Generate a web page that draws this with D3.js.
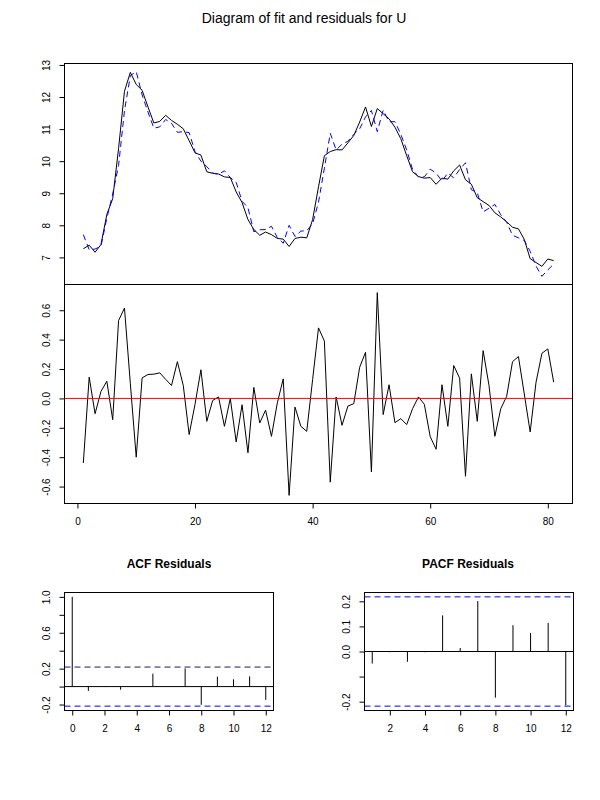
<!DOCTYPE html>
<html>
<head>
<meta charset="utf-8">
<script src="https://cdn.jsdelivr.net/npm/d3@7"></script>
<style>
  body { margin: 0; background: #fff; }
  svg { font-family: "Liberation Sans", Arial, Helvetica, sans-serif; }
</style>
</head>
<body>
<script>
// observed series U (black) and fitted values (blue, dashed)
const actualU = [
  7.27, 7.38, 7.16, 7.40, 8.34, 8.83, 10.40, 12.18, 12.77, 12.39,
  12.21, 11.69, 11.19, 11.24, 11.43, 11.27, 11.15, 11.01, 10.64, 10.26,
  10.19, 9.67, 9.62, 9.60, 9.51, 9.49, 9.04, 8.71, 8.18, 7.87,
  7.69, 7.79, 7.71, 7.59, 7.57, 7.34, 7.59, 7.63, 7.61, 8.18,
  9.20, 10.17, 10.30, 10.36, 10.35, 10.57, 10.80, 11.22, 11.69, 11.08,
  11.64, 11.48, 11.32, 11.06, 10.70, 10.17, 9.67, 9.52, 9.47, 9.49,
  9.28, 9.47, 9.44, 9.70, 9.88, 9.42, 9.28, 8.86, 8.74, 8.62,
  8.39, 8.26, 8.11, 7.94, 7.89, 7.56, 6.96, 6.84, 6.72, 6.95,
  6.90
];
const fittedU = [
  7.71, 7.24, 7.26, 7.35, 8.22, 8.98, 9.87, 11.57, 12.67, 12.79,
  12.07, 11.53, 11.03, 11.07, 11.30, 11.18, 10.90, 10.92, 10.89, 10.30,
  10.00, 9.83, 9.63, 9.59, 9.70, 9.49, 9.34, 8.75, 8.55, 7.80,
  7.86, 7.87, 7.97, 7.62, 7.44, 8.00, 7.65, 7.82, 7.83, 8.05,
  8.72, 9.78, 10.87, 10.35, 10.53, 10.62, 10.84, 11.01, 11.38, 11.58,
  10.92, 11.59, 11.23, 11.23, 10.84, 10.35, 9.74, 9.51, 9.51, 9.75,
  9.63, 9.38, 9.63, 9.48, 9.74, 9.95, 9.11, 9.02, 8.42, 8.53,
  8.65, 8.33, 8.10, 7.69, 7.61, 7.53, 7.19, 6.73, 6.41, 6.61,
  6.79
];
const residualsU = [
  -0.44, 0.145, -0.104, 0.047, 0.117, -0.145, 0.53, 0.615, 0.10, -0.40,
  0.14, 0.163, 0.165, 0.174, 0.13, 0.088, 0.25, 0.088, -0.246, -0.04,
  0.195, -0.156, -0.014, 0.01, -0.19, 0.0, -0.296, -0.043, -0.37, 0.075,
  -0.167, -0.08, -0.258, -0.03, 0.133, -0.66, -0.059, -0.19, -0.224, 0.128,
  0.48, 0.39, -0.57, 0.01, -0.183, -0.052, -0.036, 0.212, 0.314, -0.50,
  0.72, -0.11, 0.093, -0.165, -0.138, -0.178, -0.07, 0.01, -0.04, -0.26,
  -0.346, 0.093, -0.19, 0.224, 0.138, -0.53, 0.167, -0.156, 0.325, 0.088,
  -0.258, -0.07, 0.014, 0.25, 0.285, 0.03, -0.228, 0.11, 0.307, 0.337,
  0.11
];
const timeIndex = d3.range(1, actualU.length + 1);

// ACF / PACF of the residuals
const acfLags = [0, 1, 2, 3, 4, 5, 6, 7, 8, 9, 10, 11, 12];
const acfValues = [1.0, -0.048, -0.005, -0.035, -0.004, 0.144, -0.004, 0.203, -0.203, 0.111, 0.081, 0.114, -0.148];
const pacfLags = [1, 2, 3, 4, 5, 6, 7, 8, 9, 10, 11, 12];
const pacfValues = [-0.048, -0.003, -0.041, -0.003, 0.144, 0.014, 0.201, -0.184, 0.105, 0.074, 0.114, -0.215];
const confLimit = 0.2178;

// tick labels
const topTicks = [7, 8, 9, 10, 11, 12, 13];
const residTicks = [-0.6, -0.4, -0.2, 0.0, 0.2, 0.4, 0.6];
const timeTicks = [0, 20, 40, 60, 80];
const acfYTicks = [-0.2, 0.0, 0.2, 0.4, 0.6, 0.8, 1.0];
const acfYLabels = [-0.2, 0.2, 0.6, 1.0];
const acfXTicks = [0, 2, 4, 6, 8, 10, 12];
const pacfYTicks = [-0.2, -0.1, 0.0, 0.1, 0.2];
const pacfYLabels = [-0.2, 0.0, 0.1, 0.2];
const pacfXTicks = [2, 4, 6, 8, 10, 12];

const svg = d3.select("body").append("svg")
    .attr("width", 600)
    .attr("height", 800);

svg.append("rect").attr("width", 600).attr("height", 800).attr("fill", "#fff");

// R style 4% padding of a range
const padRange = function(lo, hi){
    const e = (hi - lo) * 0.04;
    return [lo - e, hi + e];
}

const fmt1 = d => d.toFixed(1);

const leftAxis = function(g, scale, ticks, format, shown){
    g.call(d3.axisLeft(scale).tickValues(ticks).tickFormat(format).tickSize(5).tickSizeOuter(0));
    g.select(".domain").remove();
    g.selectAll(".tick line").attr("stroke", "#000");
    g.selectAll(".tick text")
        .attr("transform", "rotate(-90)")
        .attr("x", 0)
        .attr("y", -15)
        .attr("dy", 0)
        .attr("text-anchor", "middle")
        .attr("fill", "#000")
        .style("font-size", "10px")
        .text(d => (shown && !shown.some(s => Math.abs(s - d) < 1e-9)) ? "" : format(d));
}

const bottomAxis = function(g, scale, ticks){
    g.call(d3.axisBottom(scale).tickValues(ticks).tickFormat(d3.format("d")).tickSize(5).tickSizeOuter(0).tickPadding(9));
    g.select(".domain").remove();
    g.selectAll(".tick line").attr("stroke", "#000");
    g.selectAll(".tick text").attr("fill", "#000").style("font-size", "10px");
}

const box = function(x0, y0, x1, y1){
    svg.append("rect")
        .attr("x", x0).attr("y", y0)
        .attr("width", x1 - x0).attr("height", y1 - y0)
        .attr("fill", "none").attr("stroke", "#000").attr("stroke-width", 1);
}

// main title
svg.append("text")
    .attr("x", 304).attr("y", 23)
    .attr("text-anchor", "middle")
    .style("font-size", "14px")
    .text("Diagram of fit and residuals for U");

// ---- top panel: fit ----
const x = d3.scaleLinear()
    .domain(padRange(1, actualU.length))
    .range([64.5, 572.5]);

const yTop = d3.scaleLinear()
    .domain(padRange(d3.min(actualU.concat(fittedU)), d3.max(actualU.concat(fittedU))))
    .range([284.5, 63.5]);

const topLine = d3.line().x((d, i) => x(timeIndex[i])).y(d => yTop(d));

svg.append("path")
    .datum(actualU)
    .attr("d", topLine)
    .attr("fill", "none").attr("stroke", "#000").attr("stroke-width", 1);

svg.append("path")
    .datum(fittedU)
    .attr("d", topLine)
    .attr("fill", "none").attr("stroke", "#0000ff").attr("stroke-width", 1)
    .attr("stroke-dasharray", "6,4");

leftAxis(svg.append("g").attr("transform", "translate(64.5,0)"), yTop, topTicks, d3.format("d"));
box(64.5, 63.5, 572.5, 284.5);

// ---- middle panel: residuals ----
const yRes = d3.scaleLinear()
    .domain(padRange(d3.min(residualsU), d3.max(residualsU)))
    .range([503.5, 284.5]);

svg.append("path")
    .datum(residualsU)
    .attr("d", d3.line().x((d, i) => x(timeIndex[i])).y(d => yRes(d)))
    .attr("fill", "none").attr("stroke", "#000").attr("stroke-width", 1);

svg.append("line")
    .attr("x1", 64.5).attr("x2", 572.5)
    .attr("y1", yRes(0)).attr("y2", yRes(0))
    .attr("stroke", "#ff0000").attr("stroke-width", 1);

leftAxis(svg.append("g").attr("transform", "translate(64.5,0)"), yRes, residTicks, fmt1);
bottomAxis(svg.append("g").attr("transform", "translate(0,503.5)"), x, timeTicks);
box(64.5, 284.5, 572.5, 503.5);

// ---- ACF panel ----
const xAcf = d3.scaleLinear().domain(padRange(0, 12)).range([64.5, 273.5]);
const yAcf = d3.scaleLinear()
    .domain(padRange(Math.min(d3.min(acfValues), -confLimit), Math.max(d3.max(acfValues), confLimit)))
    .range([710.5, 592.5]);

svg.append("text")
    .attr("x", 169).attr("y", 568)
    .attr("text-anchor", "middle")
    .style("font-size", "12px").style("font-weight", "bold")
    .text("ACF Residuals");

svg.append("g").selectAll("line")
    .data(acfValues)
    .join("line")
    .attr("x1", (d, i) => xAcf(acfLags[i])).attr("x2", (d, i) => xAcf(acfLags[i]))
    .attr("y1", yAcf(0)).attr("y2", d => yAcf(d))
    .attr("stroke", "#000").attr("stroke-width", 1);

svg.append("line")
    .attr("x1", 64.5).attr("x2", 273.5)
    .attr("y1", yAcf(0)).attr("y2", yAcf(0))
    .attr("stroke", "#000");

svg.append("line")
    .attr("x1", 64.5).attr("x2", 273.5)
    .attr("y1", yAcf(confLimit)).attr("y2", yAcf(confLimit))
    .attr("stroke", "#1a1a60").attr("stroke-dasharray", "6,4");

svg.append("line")
    .attr("x1", 64.5).attr("x2", 273.5)
    .attr("y1", yAcf(-confLimit)).attr("y2", yAcf(-confLimit))
    .attr("stroke", "#0000ff").attr("stroke-dasharray", "6,4");

leftAxis(svg.append("g").attr("transform", "translate(64.5,0)"), yAcf, acfYTicks, fmt1, acfYLabels);
bottomAxis(svg.append("g").attr("transform", "translate(0,710.5)"), xAcf, acfXTicks);
box(64.5, 592.5, 273.5, 710.5);

// ---- PACF panel ----
const xPacf = d3.scaleLinear().domain(padRange(1, 12)).range([364.5, 573.5]);
const yPacf = d3.scaleLinear()
    .domain(padRange(Math.min(d3.min(pacfValues), -confLimit), Math.max(d3.max(pacfValues), confLimit)))
    .range([710.5, 592.5]);

svg.append("text")
    .attr("x", 468).attr("y", 568)
    .attr("text-anchor", "middle")
    .style("font-size", "12px").style("font-weight", "bold")
    .text("PACF Residuals");

svg.append("g").selectAll("line")
    .data(pacfValues)
    .join("line")
    .attr("x1", (d, i) => xPacf(pacfLags[i])).attr("x2", (d, i) => xPacf(pacfLags[i]))
    .attr("y1", yPacf(0)).attr("y2", d => yPacf(d))
    .attr("stroke", "#000").attr("stroke-width", 1);

svg.append("line")
    .attr("x1", 364.5).attr("x2", 573.5)
    .attr("y1", yPacf(0)).attr("y2", yPacf(0))
    .attr("stroke", "#000");

[confLimit, -confLimit].forEach(c => {
    svg.append("line")
        .attr("x1", 364.5).attr("x2", 573.5)
        .attr("y1", yPacf(c)).attr("y2", yPacf(c))
        .attr("stroke", "#0000ff").attr("stroke-dasharray", "6,4");
});

leftAxis(svg.append("g").attr("transform", "translate(364.5,0)"), yPacf, pacfYTicks, fmt1, pacfYLabels);
bottomAxis(svg.append("g").attr("transform", "translate(0,710.5)"), xPacf, pacfXTicks);
box(364.5, 592.5, 573.5, 710.5);
</script>
</body>
</html>
